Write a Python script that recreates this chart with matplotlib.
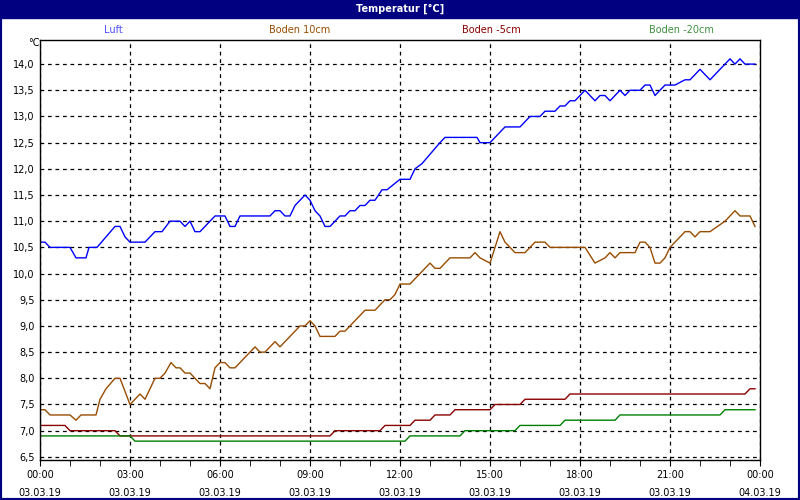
import matplotlib
matplotlib.use("Agg")
import matplotlib.pyplot as plt
from matplotlib.patches import Rectangle

# time in minutes since 03.03.19 00:00
luft_t = [0,10,20,60,72,92,98,114,150,160,170,180,210,230,244,260,280,290,300,310,320,350,370,380,390,400,460,470,480,490,500,510,530,540,550,560,570,580,600,610,620,630,640,650,660,670,684,694,720,740,750,764,800,810,874,880,900,910,930,960,980,1000,1010,1030,1040,1050,1060,1070,1090,1110,1120,1130,1140,1160,1170,1180,1200,1210,1220,1230,1250,1270,1290,1300,1320,1340,1360,1370,1380,1390,1400,1410,1430]
luft_v = [10.6,10.6,10.5,10.5,10.3,10.3,10.5,10.5,10.9,10.9,10.7,10.6,10.6,10.8,10.8,11.0,11.0,10.9,11.0,10.8,10.8,11.1,11.1,10.9,10.9,11.1,11.1,11.2,11.2,11.1,11.1,11.3,11.5,11.4,11.2,11.1,10.9,10.9,11.1,11.1,11.2,11.2,11.3,11.3,11.4,11.4,11.6,11.6,11.8,11.8,12.0,12.1,12.5,12.6,12.6,12.5,12.5,12.6,12.8,12.8,13.0,13.0,13.1,13.1,13.2,13.2,13.3,13.3,13.5,13.3,13.4,13.4,13.3,13.5,13.4,13.5,13.5,13.6,13.6,13.4,13.6,13.6,13.7,13.7,13.9,13.7,13.9,14.0,14.1,14.0,14.1,14.0,14.0]

b10_t = [0,10,20,60,72,82,112,120,132,150,160,172,180,200,210,230,240,250,262,272,280,290,300,320,330,340,350,360,370,380,390,430,440,450,470,480,500,520,530,540,550,560,590,600,610,650,670,690,700,710,720,740,760,780,790,800,820,860,870,880,900,920,930,950,970,990,1010,1020,1090,1110,1130,1140,1150,1160,1190,1200,1210,1220,1230,1240,1250,1260,1270,1280,1290,1300,1310,1320,1340,1370,1380,1390,1400,1420,1430]
b10_v = [7.4,7.4,7.3,7.3,7.2,7.3,7.3,7.6,7.8,8.0,8.0,7.7,7.5,7.7,7.6,8.0,8.0,8.1,8.3,8.2,8.2,8.1,8.1,7.9,7.9,7.8,8.2,8.3,8.3,8.2,8.2,8.6,8.5,8.5,8.7,8.6,8.8,9.0,9.0,9.1,9.0,8.8,8.8,8.9,8.9,9.3,9.3,9.5,9.5,9.6,9.8,9.8,10.0,10.2,10.1,10.1,10.3,10.3,10.4,10.3,10.2,10.8,10.6,10.4,10.4,10.6,10.6,10.5,10.5,10.2,10.3,10.4,10.3,10.4,10.4,10.6,10.6,10.5,10.2,10.2,10.3,10.5,10.6,10.7,10.8,10.8,10.7,10.8,10.8,11.0,11.1,11.2,11.1,11.1,10.9]

b5_t = [0,50,60,150,160,580,590,680,690,740,750,780,790,820,830,900,910,960,970,1050,1060,1410,1420,1430]
b5_v = [7.1,7.1,7.0,7.0,6.9,6.9,7.0,7.0,7.1,7.1,7.2,7.2,7.3,7.3,7.4,7.4,7.5,7.5,7.6,7.6,7.7,7.7,7.8,7.8]

b20_t = [0,180,190,730,740,840,850,950,960,1040,1050,1150,1160,1360,1370,1430]
b20_v = [6.9,6.9,6.8,6.8,6.9,6.9,7.0,7.0,7.1,7.1,7.2,7.2,7.3,7.3,7.4,7.4]

series_names = ["Luft", "Boden 10cm", "Boden -5cm", "Boden -20cm"]
series_colors = ["#0000ff", "#994c00", "#8b0000", "#008000"]
label_colors = ["#5050ff", "#994c00", "#8b0000", "#409040"]
x_ticks = [0, 180, 360, 540, 720, 900, 1080, 1260, 1440]
x_labels = ["00:00\n03.03.19", "03:00\n03.03.19", "06:00\n03.03.19", "09:00\n03.03.19",
            "12:00\n03.03.19", "15:00\n03.03.19", "18:00\n03.03.19", "21:00\n03.03.19",
            "00:00\n04.03.19"]
y_ticks = [6.5, 7.0, 7.5, 8.0, 8.5, 9.0, 9.5, 10.0, 10.5, 11.0, 11.5, 12.0, 12.5, 13.0, 13.5, 14.0]

fig = plt.figure(figsize=(8, 5), dpi=100)
fig.patches.append(Rectangle((0, 0), 1, 1, transform=fig.transFigure, fill=False,
                             edgecolor="#000080", lw=3))
fig.patches.append(Rectangle((0, 1 - 18/500), 1, 18/500, transform=fig.transFigure,
                             color="#000080"))
fig.text(0.5, 1 - 9/500, "Temperatur [°C]", color="white", fontsize=7, fontweight="bold",
         ha="center", va="center")

ax = fig.add_axes([40/800, 40/500, 720/800, 420/500])
data = [(luft_t, luft_v), (b10_t, b10_v), (b5_t, b5_v), (b20_t, b20_v)]
for (t, v), c in zip(data, series_colors):
    ax.plot(t, v, color=c, lw=1)

ax.set_xlim(0, 1440)
ax.set_ylim(6.44, 14.46)
ax.set_xticks(x_ticks)
ax.set_xticklabels(x_labels, fontsize=7, linespacing=1.9)
ax.set_xticks(range(0, 1441, 60), minor=True)
ax.set_yticks(y_ticks)
ax.set_yticklabels([f"{y:.1f}".replace(".", ",") for y in y_ticks], fontsize=7)
ax.tick_params(axis="x", which="both", length=4, direction="out")
ax.tick_params(axis="y", length=0, pad=4)
ax.grid(True, color="black", linestyle=(0, (3, 3)), lw=0.9)
for s in ax.spines.values():
    s.set_linewidth(1)
ax.text(-0.005, 14.4, "°C", fontsize=7, ha="right", va="center")

label_x = [113, 300, 491, 681]
for name, c, x in zip(series_names, label_colors, label_x):
    fig.text(x/800, 1 - 30/500, name, color=c, fontsize=7, ha="center", va="center")

fig.savefig("out.png", dpi=100)
